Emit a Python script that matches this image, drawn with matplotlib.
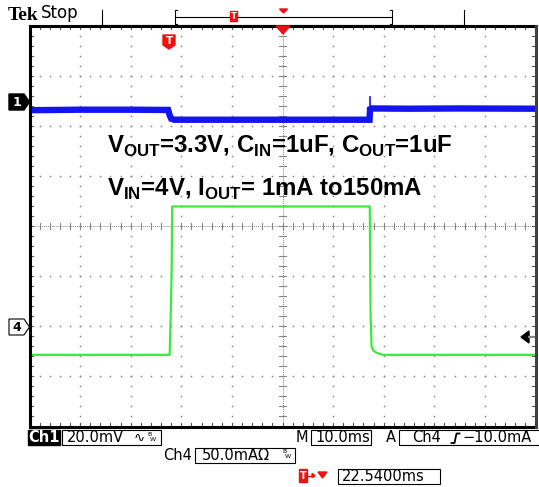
import matplotlib
matplotlib.use('Agg')
import matplotlib.pyplot as plt
import numpy as np
from matplotlib.patches import Polygon, Rectangle

plt.rcParams['mathtext.fontset'] = 'custom'
plt.rcParams['mathtext.bf'] = 'Liberation Sans:bold'
plt.rcParams['mathtext.rm'] = 'Liberation Sans'
plt.rcParams['font.family'] = ['DejaVu Sans']

# ---------------- data ----------------
# Ch1: output voltage ripple, mV relative to the channel-1 marker, 20 mV/div
ch1_t_ms = [-50, -40, -30, -22.6, -22.3, -22.0, -21.4, -10, 0, 17.2, 17.3, 17.6, 25, 35, 50]
ch1_mV = [-3.2, -3.0, -3.0, -3.1, -5.2, -6.6, -7.0, -7.0, -7.0, -7.0, -2.8, -2.5, -2.6, -2.5, -2.6]
ch1_spike_t_ms = [17.3, 17.3]
ch1_spike_mV = [-5.0, 2.1]
ch1_offset_div = 2.47
ch1_scale_mV = 20.0

# Ch4: load current, mA relative to the channel-4 marker, 50 mA/div
ch4_t_ms = [-50, -22.3, -22.05, -21.9, -21.8, 17.25, 17.4, 17.6, 18.0, 18.6, 19.8, 50]
ch4_mA = [-28, -28, 20, 60, 120, 120, 14, -20, -24, -26, -28, -28]
ch4_offset_div = -2.01
ch4_scale_mA = 50.0

time_per_div_ms = 10.0

title_line1 = r'V$_{\mathbf{OUT}}$=3.3V, C$_{\mathbf{IN}}$=1uF, C$_{\mathbf{OUT}}$=1uF'
title_line2 = r'V$_{\mathbf{IN}}$=4V, I$_{\mathbf{OUT}}$= 1mA to150mA'

ch1_label = '20.0mV'
ch4_label = '50.0mA\u03a9'
timebase_label = '10.0ms'
trigger_src = 'Ch4'
trigger_level = '\u221210.0mA'
trig_pos_label = '22.5400ms'

# ---------------- figure ----------------
W, H = 539, 487
fig = plt.figure(figsize=(W / 100, H / 100), dpi=100)
fig.patch.set_facecolor('white')

L, R, T, B = 29.5, 535.5, 25.5, 426.5
ax = fig.add_axes([L / W, 1 - B / H, (R - L) / W, (B - T) / H])
ax.set_xlim(-5, 5)
ax.set_ylim(-4, 4)
ax.axis('off')

grid_c = '#858585'
fine = np.arange(-5, 5.001, 0.2)
fine_y = np.arange(-4, 4.001, 0.2)
# dotted graticule
for k in range(-4, 5):
    if k == 0:
        continue
    ax.plot(np.full_like(fine_y, k), fine_y, 's', ms=1.1, color=grid_c, mew=0)
for j in range(-3, 4):
    if j == 0:
        continue
    ax.plot(fine, np.full_like(fine, j), 's', ms=1.1, color=grid_c, mew=0)
# center lines
ax.plot([-5, 5], [0, 0], color=grid_c, lw=0.7, ls=(0, (1, 1)))
ax.plot([0, 0], [-4, 4], color=grid_c, lw=0.7, ls=(0, (1, 1)))
for x in fine:
    ax.plot([x, x], [-0.06, 0.06], color=grid_c, lw=0.8)
for y in fine_y:
    ax.plot([-0.07, 0.07], [y, y], color=grid_c, lw=0.8)
# edge ticks
for x in fine:
    ax.plot([x, x], [4, 3.93], color='#555555', lw=0.8)
    ax.plot([x, x], [-4, -3.93], color='#555555', lw=0.8)
for y in fine_y:
    ax.plot([-5, -4.93], [y, y], color='#555555', lw=0.8)
    ax.plot([5, 4.93], [y, y], color='#555555', lw=0.8)

# traces
t1 = np.array(ch1_t_ms) / time_per_div_ms
y1 = np.array(ch1_mV) / ch1_scale_mV + ch1_offset_div
ax.plot(t1, y1, color='#1414f0', lw=4.6, solid_joinstyle='miter', zorder=5)
ax.plot(np.array(ch1_spike_t_ms) / time_per_div_ms,
        np.array(ch1_spike_mV) / ch1_scale_mV + ch1_offset_div,
        color='#1414f0', lw=1.2, zorder=5)
t4 = np.array(ch4_t_ms) / time_per_div_ms
y4 = np.array(ch4_mA) / ch4_scale_mA + ch4_offset_div
ax.plot(t4, y4, color='#3de83d', lw=1.6, zorder=5)

# ---------------- overlay in pixel coordinates ----------------
ov = fig.add_axes([0, 0, 1, 1], zorder=3)
ov.set_xlim(0, W)
ov.set_ylim(H, 0)
ov.axis('off')
ov.patch.set_alpha(0)

# frame
ov.plot([L, R], [T, T], color='black', lw=2.2, solid_capstyle='projecting')
ov.plot([L, L], [T, B], color='black', lw=2.2, solid_capstyle='projecting')
ov.plot([L, R], [B, B], color='black', lw=2.2, solid_capstyle='projecting')
ov.plot([R, R], [T, B], color='#404040', lw=2.2, solid_capstyle='projecting')

# header
ov.text(8, 20, 'Tek', fontsize=14, fontweight='bold', family='Liberation Serif',
        va='baseline', ha='left')
ov.text(41, 18.5, 'Stop', fontsize=12, va='baseline', ha='left')
ov.plot([102, 464], [24.5, 24.5], color='black', lw=0.8)
ov.plot([102, 102], [9.5, 24.5], color='black', lw=0.8)
ov.plot([464, 464], [9.5, 24.5], color='black', lw=0.8)
ov.plot([175, 392], [16.5, 16.5], color='black', lw=0.8)
ov.plot([177, 175, 175, 177], [9.5, 9.5, 24, 24], color='black', lw=0.8)
ov.plot([390, 392, 392, 390], [9.5, 9.5, 24, 24], color='black', lw=0.8)
ov.add_patch(Rectangle((230, 11), 7, 10, color='#ee1111', zorder=4))
ov.text(233.5, 16.3, 'T', color='white', fontsize=6, fontweight='bold', ha='center', va='center', zorder=5)
ov.add_patch(Polygon([[279.5, 9], [287.5, 9], [283.5, 13]], closed=True, color='#ee1111'))
ov.add_patch(Polygon([[276, 26], [290, 26], [283, 34]], closed=True, color='#ee1111', zorder=6))

# trigger T badge
ov.add_patch(Polygon([[163, 35], [175, 35], [175, 45], [169, 49], [163, 45]], closed=True,
                     color='#ee1111', zorder=6))
ov.text(169, 41.5, 'T', color='white', fontsize=7.5, fontweight='bold', ha='center', va='center', zorder=7)

# channel markers
ov.add_patch(Polygon([[9, 94], [24, 94], [29.5, 102], [24, 110], [9, 110]], closed=True,
                     color='black', zorder=6))
ov.text(17, 102.5, '1', color='white', fontsize=9, fontweight='bold', ha='center', va='center', zorder=7)
ov.add_patch(Polygon([[9, 319], [24, 319], [29.5, 327], [24, 335], [9, 335]], closed=True,
                     facecolor='white', edgecolor='black', lw=0.8, zorder=6))
ov.text(17, 327.5, '4', color='black', fontsize=9, fontweight='bold', ha='center', va='center', zorder=7)

# trigger level marker
ov.add_patch(Polygon([[521, 337], [529, 331], [529, 343]], closed=True, color='black', zorder=6))
ov.plot([529, 534], [337, 337], color='#888888', lw=1.5, zorder=6)

# annotations
ov.text(107, 153, title_line1, fontsize=17.3, fontweight='bold', family='Liberation Sans',
        ha='left', va='baseline', zorder=8)
ov.text(107, 196, title_line2, fontsize=17.3, fontweight='bold', family='Liberation Sans',
        ha='left', va='baseline', zorder=8)

# bottom status
fs = 10.5
ov.add_patch(Rectangle((28, 430), 32, 15, color='black'))
ov.text(44, 438, 'Ch1', color='white', fontsize=fs, fontweight='bold', ha='center', va='center')
ov.add_patch(Rectangle((61.5, 430), 99, 15, facecolor='white', edgecolor='black', lw=0.8))
ov.text(67, 438, ch1_label, fontsize=fs, ha='left', va='center')
ov.text(134, 438, '\u223f', fontsize=fs - 1, ha='left', va='center')
ov.text(147, 434.5, 'B', fontsize=4.5, ha='left', va='center')
ov.text(150, 439.5, 'W', fontsize=4.5, ha='left', va='center')

ov.text(296, 438, 'M', fontsize=fs, ha='left', va='center')
ov.add_patch(Rectangle((311, 430), 60, 15, facecolor='white', edgecolor='black', lw=0.8))
ov.text(315, 438, timebase_label, fontsize=fs, ha='left', va='center')

ov.text(386, 438, 'A', fontsize=fs, ha='left', va='center')
ov.add_patch(Rectangle((399, 430), 145, 15, facecolor='white', edgecolor='black', lw=0.8))
ov.text(412, 438, trigger_src, fontsize=fs, ha='left', va='center')
# rising-edge slope symbol
ov.plot([451.5, 454.5, 456.5, 459.5], [443, 443, 433.5, 433.5], color='black', lw=1.3,
        solid_joinstyle='round')
ov.text(462, 438, trigger_level, fontsize=fs, ha='left', va='center')

ov.text(163, 455, 'Ch4', fontsize=fs, ha='left', va='center')
ov.add_patch(Rectangle((194.5, 447.5), 100, 15, facecolor='white', edgecolor='black', lw=0.8))
ov.text(202, 455, ch4_label, fontsize=fs, ha='left', va='center')
ov.text(282, 451.5, 'B', fontsize=4.5, ha='left', va='center')
ov.text(285, 456.5, 'W', fontsize=4.5, ha='left', va='center')

ov.add_patch(Rectangle((299, 469), 8, 13, color='#ee1111'))
ov.text(303, 475.8, 'T', color='white', fontsize=7, fontweight='bold', ha='center', va='center')
ov.plot([308, 314], [475.5, 475.5], color='#ee1111', lw=1)
ov.add_patch(Polygon([[312, 473.5], [315, 475.5], [312, 477.5]], closed=True, color='#ee1111'))
ov.add_patch(Polygon([[318, 472], [327, 472], [322.5, 478]], closed=True, color='#ee1111'))
ov.add_patch(Rectangle((338, 468.5), 102, 15.5, facecolor='white', edgecolor='black', lw=0.8))
ov.text(342, 476.5, trig_pos_label, fontsize=fs, ha='left', va='center')

fig.savefig('out.png', dpi=100)
